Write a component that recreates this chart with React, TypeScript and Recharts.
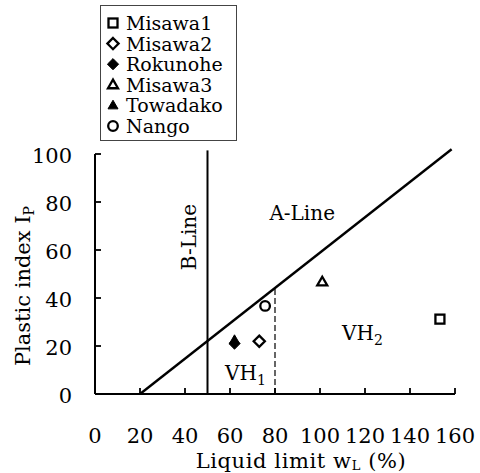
import React from 'react';
import {
  ScatterChart, Scatter, XAxis, YAxis, ReferenceLine, ReferenceDot, Legend,
} from 'recharts';

const FONT = '"DejaVu Serif", serif';

// categories / series
const seriesNames = ['Misawa1', 'Misawa2', 'Rokunohe', 'Misawa3', 'Towadako', 'Nango'];
const seriesKinds = ['square', 'diamond', 'diamond', 'triangle', 'triangle', 'circle'];
const seriesFilled = [false, false, true, false, true, false];

// values: liquid limit wL (%) and plastic index Ip
const misawa1 = [{ wL: 153.3, Ip: 31.2 }];
const misawa2 = [{ wL: 73, Ip: 22 }];
const rokunohe = [{ wL: 62, Ip: 21 }];
const misawa3 = [{ wL: 101, Ip: 46.7 }];
const towadako = [{ wL: 62, Ip: 22.5 }];
const nango = [{ wL: 75.6, Ip: 36.7 }];
const seriesData = [misawa1, misawa2, rokunohe, misawa3, towadako, nango];

// ticks
const xTicks = [0, 20, 40, 60, 80, 100, 120, 140, 160];
const yTicks = [0, 20, 40, 60, 80, 100];

// reference lines (data space)
const aLine = [{ x: 20, y: 0 }, { x: 158.5, y: 102 }];
const bLine = [{ x: 50, y: 0 }, { x: 50, y: 101.5 }];
const vhDivider = [{ x: 80, y: 0 }, { x: 80, y: 43.8 }];

// text annotations (data space anchors: text start, baseline)
const aLabel = { x: 77.5, y: 72.5, text: 'A-Line' };
const bLabel = { x: 45, y: 65.4, text: 'B-Line' };
const vh1Label = { x: 57.8, y: 5.8, text: 'VH', sub: '1' };
const vh2Label = { x: 109.8, y: 22.5, text: 'VH', sub: '2' };

const Marker = ({ cx, cy, kind, filled }: any) => {
  const fill = filled ? '#000' : '#fff';
  const sw = filled ? 1 : 2.3;
  if (kind === 'square') {
    const s = 9;
    return <rect x={cx - s / 2} y={cy - s / 2} width={s} height={s} fill={fill} stroke="#000" strokeWidth={sw} />;
  }
  if (kind === 'diamond') {
    const h = 5.6;
    return <polygon points={`${cx},${cy - h} ${cx + h},${cy} ${cx},${cy + h} ${cx - h},${cy}`} fill={fill} stroke="#000" strokeWidth={sw} />;
  }
  if (kind === 'triangle') {
    const s = 10;
    const hh = s * 0.866;
    return <polygon points={`${cx},${cy - hh * 0.6} ${cx + s / 2},${cy + hh * 0.4} ${cx - s / 2},${cy + hh * 0.4}`} fill={fill} stroke="#000" strokeWidth={sw} strokeLinejoin="miter" />;
  }
  return <circle cx={cx} cy={cy} r={4.8} fill={fill} stroke="#000" strokeWidth={sw} />;
};

const XTick = ({ x, y, payload }: any) => (
  <g>
    {payload.value !== 0 && <line x1={x} y1={y} x2={x} y2={y - 6} stroke="#000" strokeWidth={1.8} />}
    <text x={x} y={y + 49} textAnchor="middle" fontFamily={FONT} fontSize={21} fill="#000">{payload.value}</text>
  </g>
);

const YTick = ({ x, y, payload }: any) => (
  <g>
    {payload.value !== 0 && <line x1={x} y1={y} x2={x + 6} y2={y} stroke="#000" strokeWidth={1.8} />}
    <text x={x - 23} y={y + 9} textAnchor="end" fontFamily={FONT} fontSize={21} fill="#000">{payload.value}</text>
  </g>
);

const LegendContent = () => (
  <svg width={137} height={136}>
    {seriesNames.map((name, i) => {
      const cy = 17 + i * 20.6;
      return (
        <g key={name}>
          <Marker cx={12} cy={cy} kind={seriesKinds[i]} filled={seriesFilled[i]} />
          <text x={25} y={cy + 7} fontFamily={FONT} fontSize={19} fill="#000">{name}</text>
        </g>
      );
    })}
  </svg>
);

const SubLabel = (info: { text: string; sub?: string; rotate?: boolean }) => (props: any) => {
  const vb = props.viewBox || {};
  const cx = vb.cx ?? vb.x;
  const cy = vb.cy ?? vb.y;
  if (info.rotate) {
    return (
      <text x={cx} y={cy} transform={`rotate(-90 ${cx} ${cy})`} textAnchor="middle" fontFamily={FONT} fontSize={20} fill="#000">
        {info.text}
      </text>
    );
  }
  return (
    <text x={cx} y={cy} textAnchor="start" fontFamily={FONT} fontSize={20} fill="#000">
      {info.text}
      {info.sub && <tspan fontSize={14} dy={5}>{info.sub}</tspan>}
    </text>
  );
};

const XTitle = (props: any) => {
  const { x, y } = props.viewBox;
  return (
    <text x={x + 206} y={y + 74} textAnchor="middle" fontFamily={FONT} fontSize={21} letterSpacing={0.6} fill="#000">
      Liquid limit w<tspan fontSize={13} dy={2}>L</tspan><tspan dy={-2}> (%)</tspan>
    </text>
  );
};

const YTitle = (props: any) => {
  const { y, height } = props.viewBox;
  const cx = 30;
  const cy = y + height / 2 + 12;
  return (
    <text x={cx} y={cy} transform={`rotate(-90 ${cx} ${cy})`} textAnchor="middle" fontFamily={FONT} fontSize={21} fill="#000">
      Plastic index I<tspan fontSize={14} dy={4}>P</tspan>
    </text>
  );
};

export default function App() {
  return (
    <div style={{ position: 'absolute', left: 0, top: 0, background: '#fff' }}>
      <ScatterChart width={480} height={473} margin={{ top: 154, right: 25, bottom: 0, left: 0 }}>
        <XAxis
          type="number" dataKey="wL" domain={[0, 160]} ticks={xTicks} interval={0}
          height={79} tickSize={0} tickMargin={0} tickLine={false}
          axisLine={{ stroke: '#000', strokeWidth: 2 }} tick={<XTick />} label={<XTitle />}
          allowDataOverflow
        />
        <YAxis
          type="number" dataKey="Ip" domain={[0, 100]} ticks={yTicks} interval={0}
          width={95} tickSize={0} tickMargin={0} tickLine={false}
          axisLine={{ stroke: '#000', strokeWidth: 2 }} tick={<YTick />} label={<YTitle />}
          allowDataOverflow
        />
        <ReferenceLine segment={aLine} stroke="#000" strokeWidth={2.4} ifOverflow="visible" />
        <ReferenceLine segment={bLine} stroke="#000" strokeWidth={2} ifOverflow="visible" />
        <ReferenceLine segment={vhDivider} stroke="#000" strokeWidth={1.2} strokeDasharray="6 3" ifOverflow="visible" />
        <ReferenceDot x={aLabel.x} y={aLabel.y} r={0} fill="none" stroke="none" label={SubLabel({ text: aLabel.text })} />
        <ReferenceDot x={bLabel.x} y={bLabel.y} r={0} fill="none" stroke="none" label={SubLabel({ text: bLabel.text, rotate: true })} />
        <ReferenceDot x={vh1Label.x} y={vh1Label.y} r={0} fill="none" stroke="none" label={SubLabel({ text: vh1Label.text, sub: vh1Label.sub })} />
        <ReferenceDot x={vh2Label.x} y={vh2Label.y} r={0} fill="none" stroke="none" label={SubLabel({ text: vh2Label.text, sub: vh2Label.sub })} />
        {seriesNames.map((name, i) => (
          <Scatter
            key={name}
            name={name}
            data={seriesData[i]}
            isAnimationActive={false}
            shape={(p: any) => <Marker cx={p.cx} cy={p.cy} kind={seriesKinds[i]} filled={seriesFilled[i]} />}
          />
        ))}
        <Legend
          layout="vertical" align="center" verticalAlign="middle"
          content={<LegendContent />}
          wrapperStyle={{ position: 'absolute', left: 100, top: 5, width: 137, height: 136, border: '1px solid #444', background: '#fff', boxSizing: 'border-box' }}
        />
      </ScatterChart>
    </div>
  );
}
